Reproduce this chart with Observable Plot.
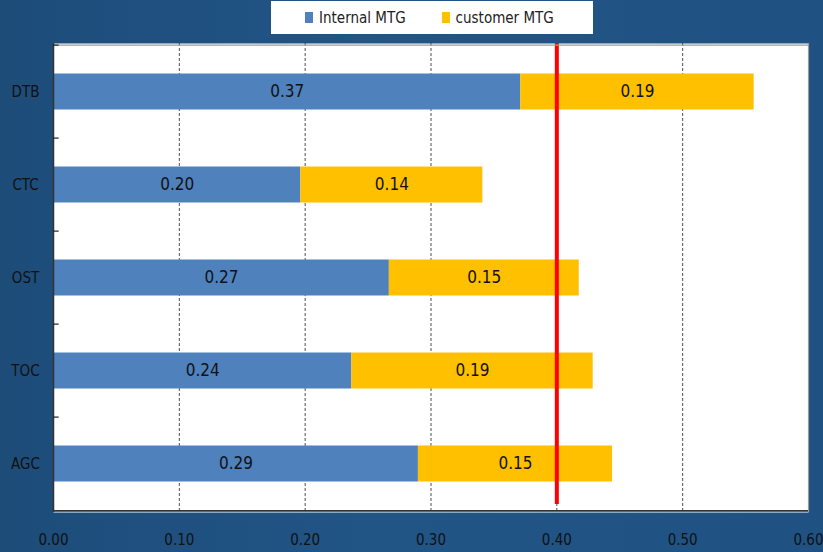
<!DOCTYPE html>
<html>
<head>
<meta charset="utf-8">
<script src="https://cdn.jsdelivr.net/npm/d3@7"></script>
<script src="https://cdn.jsdelivr.net/npm/@observablehq/plot@0.6"></script>
<style>
  html, body { margin: 0; padding: 0; }
  body {
    width: 823px; height: 552px; overflow: hidden; position: relative;
    background: linear-gradient(90deg, #1d4c79 0%, #215586 45%, #1f5282 100%);
    font-family: "Liberation Sans Narrow", "DejaVu Sans Condensed", "Roboto", sans-serif;
  }
  #legend {
    position: absolute; left: 271px; top: 1px; width: 322px; height: 33px;
    background: #fff; display: flex; align-items: center; box-sizing: border-box;
    padding-left: 34px; font-size: 15px; color: #222; z-index: 2; white-space: nowrap;
  }
  #legend .item { display: flex; align-items: center; margin-right: 36px; white-space: nowrap; }
  #legend .sw { width: 8px; height: 11px; margin-right: 6px; flex: none; }
  #chart { position: absolute; left: 0; top: 0; }
  #chart svg { display: block; }
</style>
</head>
<body>
<div id="legend"></div>
<div id="chart"></div>
<script>
const categories = ["DTB", "CTC", "OST", "TOC", "AGC"];
const seriesNames = ["Internal MTG", "customer MTG"];
const seriesColors = ["#4f81bd", "#ffc000"];
const internalMTG = [0.3714, 0.1966, 0.2669, 0.2371, 0.2900];
const customerMTG = [0.1854, 0.1446, 0.1509, 0.1918, 0.1543];
const xTicks = [0, 0.1, 0.2, 0.3, 0.4, 0.5, 0.6];
const targetValue = 0.40;

const data = categories.flatMap((c, i) => [
  {cat: c, series: seriesNames[0], value: internalMTG[i]},
  {cat: c, series: seriesNames[1], value: customerMTG[i]}
]);

const fmt = d3.format(".2f");
const fontFam = '"Liberation Sans Narrow", "DejaVu Sans Condensed", Roboto, sans-serif';
const mTop = 43, mBottom = 40;
const half = (552 - mTop - mBottom) / categories.length / 2;

const chart = Plot.plot({
  width: 823,
  height: 552,
  marginLeft: 53,
  marginRight: 15,
  marginTop: mTop,
  marginBottom: mBottom,
  style: {background: "transparent", fontFamily: fontFam, color: "#111", overflow: "visible"},
  x: {domain: [0, 0.6], label: null},
  y: {domain: categories, padding: 0, label: null},
  color: {domain: seriesNames, range: seriesColors},
  marks: [
    Plot.frame({fill: "white", stroke: null}),
    Plot.ruleX(xTicks.slice(1, -1), {stroke: "#222", strokeWidth: 0.8, strokeDasharray: "3,2"}),
    Plot.barX(data, Plot.stackX({x: "value", y: "cat", fill: "series", z: "series", order: seriesNames, insetTop: 28.5, insetBottom: 28.5})),
    Plot.text(data, Plot.stackX({x: "value", y: "cat", z: "series", order: seriesNames, text: d => fmt(d.value), fill: "#111", fontSize: 17})),
    Plot.ruleX([targetValue], {stroke: "#ff0000", strokeWidth: 4, insetBottom: 8}),
    // borders
    Plot.ruleX([0.6], {stroke: "#9a9a9a", strokeWidth: 1.2}),
    Plot.ruleY([categories[0]], {dy: -half, stroke: "#9a9a9a", strokeWidth: 1.2}),
    Plot.ruleY([categories[categories.length - 1]], {dy: half, stroke: "#333", strokeWidth: 1.8}),
    Plot.ruleX([0], {stroke: "#333", strokeWidth: 1.5}),
    // band boundary ticks on left axis
    Plot.ruleY(categories, {dy: -half, x1: 0, x2: 0.0045, stroke: "#222", strokeWidth: 1.2}),
    // y labels
    Plot.text(categories, {y: d => d, x: 0, dx: -28, textAnchor: "middle", fontSize: 15, fill: "#111"}),
    Plot.axisX({ticks: xTicks, tickFormat: ".2f", tickSize: 0, tickPadding: 22, fontSize: 15, fill: "#111", label: null}),
    Plot.axisY({ticks: [], label: null, tickSize: 0})
  ]
});
document.getElementById("chart").appendChild(chart);

const legend = document.getElementById("legend");
seriesNames.forEach((s, i) => {
  const item = document.createElement("div");
  item.className = "item";
  const sw = document.createElement("span");
  sw.className = "sw";
  sw.style.background = seriesColors[i];
  const t = document.createElement("span");
  t.textContent = s;
  item.appendChild(sw);
  item.appendChild(t);
  legend.appendChild(item);
});
</script>
</body>
</html>
